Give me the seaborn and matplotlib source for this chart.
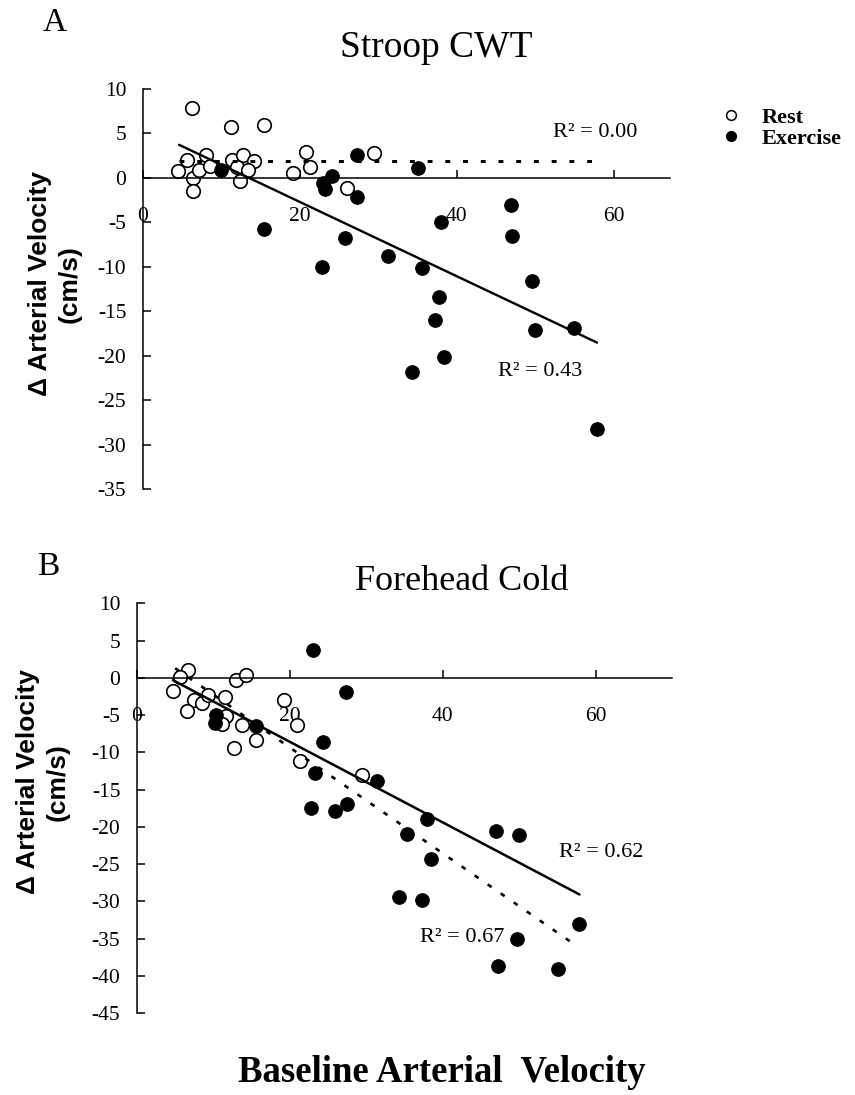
import numpy as np
import pandas as pd
import matplotlib
matplotlib.use("Agg")
import matplotlib.pyplot as plt
import seaborn as sns
from matplotlib.lines import Line2D

# ---------------- data ----------------
# Panel A : Stroop CWT
a_rest_x = [6.2, 11.2, 15.4, 20.8, 29.4, 5.6, 8.0, 4.5, 6.4, 6.4, 7.1, 8.5, 11.3,
            12.7, 14.1, 12.0, 13.4, 12.4, 19.1, 21.3, 26.0]
a_rest_y = [7.8, 5.7, 6.0, 2.9, 2.8, 2.0, 2.6, 0.8, 0.0, -1.5, 0.9, 1.3, 2.0,
            2.6, 1.9, 1.2, 0.9, -0.4, 0.6, 1.2, -1.1]
a_ex_x = [9.9, 27.3, 35.1, 24.1, 22.9, 23.2, 27.3, 15.4, 25.7, 46.9, 38.0, 47.0,
          31.3, 22.8, 35.6, 49.6, 37.7, 37.2, 50.0, 55.0, 38.4, 34.3, 57.9]
a_ex_y = [0.9, 2.6, 1.1, 0.2, -0.6, -1.2, -2.1, -5.7, -6.8, -3.0, -5.0, -6.5,
          -8.8, -10.0, -10.1, -11.6, -13.4, -16.0, -17.1, -16.9, -20.1, -21.8, -28.2]
# regression lines: slope, intercept, x-start, x-end
a_fit_dashed = (0.0, 1.9, 4.6, 57.9)
a_fit_solid = (-0.417, 5.64, 4.6, 57.9)
a_r2_labels = ["R² = 0.00", "R² = 0.43"]

# Panel B : Forehead Cold
b_rest_x = [6.7, 5.6, 4.7, 7.4, 8.5, 9.3, 6.6, 11.5, 12.9, 14.3, 19.3, 11.6,
            13.7, 15.6, 12.7, 20.9, 21.3, 11.1, 29.4]
b_rest_y = [1.0, 0.1, -1.8, -3.0, -3.4, -2.3, -4.5, -2.5, -0.3, 0.4, -3.0, -5.1,
            -6.3, -8.3, -9.4, -6.3, -11.2, -6.2, -13.0]
b_ex_x = [23.0, 27.3, 10.3, 10.2, 15.6, 24.3, 23.3, 31.4, 22.8, 25.9, 27.5, 37.9,
          35.3, 47.0, 50.0, 38.5, 34.3, 37.3, 57.9, 49.7, 47.2, 55.1]
b_ex_y = [3.7, -1.9, -5.0, -6.1, -6.5, -8.6, -12.8, -13.9, -17.5, -17.9, -17.0, -19.0,
          -21.0, -20.6, -21.1, -24.3, -29.4, -29.8, -33.0, -35.1, -38.7, -39.1]
b_fit_solid = (-0.541, 2.24, 4.7, 57.9)
b_fit_dashed = (-0.710, 4.85, 5.0, 57.7)
b_r2_labels = ["R² = 0.62", "R² = 0.67"]

x_ticks = [0, 20, 40, 60]
a_y_ticks = [10, 5, 0, -5, -10, -15, -20, -25, -30, -35]
b_y_ticks = [10, 5, 0, -5, -10, -15, -20, -25, -30, -35, -40, -45]
legend_labels = ["Rest", "Exercise"]
titles = ["Stroop CWT", "Forehead Cold"]
panel_letters = ["A", "B"]
y_label = "Δ Arterial Velocity\n(cm/s)"
x_label = "Baseline Arterial  Velocity"

# ---------------- style ----------------
sns.set_theme(style="white")
plt.rcParams['font.family'] = ['Liberation Serif', 'DejaVu Serif']
plt.rcParams['axes.unicode_minus'] = False
plt.rcParams['text.color'] = 'black'
plt.rcParams['axes.labelcolor'] = 'black'
plt.rcParams['xtick.color'] = 'black'
plt.rcParams['ytick.color'] = 'black'

SERIF = ['Liberation Serif', 'DejaVu Serif']
SANS = ['Liberation Sans', 'DejaVu Sans']

fig = plt.figure(figsize=(8.55, 10.95), dpi=100)
fig.patch.set_facecolor('white')
axA = fig.add_axes([0.16725, 0.5530, 0.6164, 0.3658])
axB = fig.add_axes([0.1602, 0.0749, 0.6257, 0.374])


def draw_panel(ax, rx, ry, ex, ey, fits, xmax, ymin, yticks):
    rest = pd.DataFrame({"x": rx, "y": ry})
    exer = pd.DataFrame({"x": ex, "y": ey})
    sns.scatterplot(data=rest, x="x", y="y", ax=ax, s=95, color="white",
                    edgecolor="black", linewidth=1.2, zorder=2)
    for slope, icpt, x0, x1, ls, lw in fits:
        xs = np.array([x0, x1])
        ys = slope * xs + icpt
        sns.lineplot(x=xs, y=ys, ax=ax, color="black", linewidth=lw,
                     linestyle=ls, zorder=3)
    sns.scatterplot(data=exer, x="x", y="y", ax=ax, s=95, color="black",
                    edgecolor="black", linewidth=0.8, zorder=4)
    ax.set_xlim(0, xmax)
    ax.set_ylim(ymin, 10)
    ax.set_xticks(x_ticks)
    ax.set_yticks(yticks)
    ax.spines['top'].set_visible(False)
    ax.spines['right'].set_visible(False)
    ax.spines['bottom'].set_position(('data', 0))
    for s in ['left', 'bottom']:
        ax.spines[s].set_color('black')
        ax.spines[s].set_linewidth(1.1)
    ax.tick_params(axis='x', bottom=True, direction='in', length=5.5, width=1.1,
                   pad=21, labelsize=15.5, colors='black')
    ax.tick_params(axis='y', left=True, direction='in', length=5.5, width=1.1,
                   pad=12, labelsize=15.5, colors='black')
    ax.set_xlabel("")
    ax.set_ylabel("")
    ax.grid(False)
    ax.set_facecolor('white')


DASH = (0, (1.6, 4.2))
draw_panel(axA, a_rest_x, a_rest_y, a_ex_x, a_ex_y,
           [(*a_fit_dashed, DASH, 2.2), (*a_fit_solid, '-', 1.7)],
           67.2, -35, a_y_ticks)
draw_panel(axB, b_rest_x, b_rest_y, b_ex_x, b_ex_y,
           [(*b_fit_solid, '-', 1.8), (*b_fit_dashed, (0, (1.8, 4.2)), 1.9)],
           70, -45, b_y_ticks)

# R^2 annotations
axA.text(57.6, 5.06, a_r2_labels[0], ha='center', va='center', fontsize=16, color='black')
axA.text(50.6, -21.8, a_r2_labels[1], ha='center', va='center', fontsize=16, color='black')
axB.text(60.7, -23.5, b_r2_labels[0], ha='center', va='center', fontsize=16, color='black')
axB.text(42.5, -34.8, b_r2_labels[1], ha='center', va='center', fontsize=16, color='black')

# titles and panel letters
fig.text(436 / 855, 1 - 48 / 1095, titles[0], ha='center', va='center',
         fontsize=27, family=SERIF, color='black')
fig.text(462 / 855, 1 - 581 / 1095, titles[1], ha='center', va='center',
         fontsize=26, family=SERIF, color='black')
fig.text(55 / 855, 1 - 23 / 1095, panel_letters[0], ha='center', va='center',
         fontsize=24, family=SERIF, color='black')
fig.text(48 / 855, 1 - 567 / 1095, panel_letters[1], ha='center', va='center',
         fontsize=24, family=SERIF, color='black')

# y labels
fig.text(54.5 / 855, 1 - 284 / 1095, y_label, rotation=90, ha='center', va='center',
         fontsize=19, fontweight='bold', family=SANS, linespacing=1.3,
         multialignment='center', color='black')
fig.text(43 / 855, 1 - 782 / 1095, y_label, rotation=90, ha='center', va='center',
         fontsize=19, fontweight='bold', family=SANS, linespacing=1.3,
         multialignment='center', color='black')

# x label
fig.text(442 / 855, 1 - 1073 / 1095, x_label, ha='center', va='center',
         fontsize=26.5, fontweight='bold', family=SERIF, color='black')

# legend
handles = [Line2D([], [], marker='o', ls='', mfc='white', mec='black', mew=1.1, ms=7),
           Line2D([], [], marker='o', ls='', mfc='black', mec='black', ms=7)]
leg = axA.legend(handles, legend_labels, loc='center left',
                 bbox_to_anchor=(722 / 855, 1 - 128 / 1095), bbox_transform=fig.transFigure,
                 frameon=False, handlelength=0.8, handletextpad=1.0, labelspacing=0.0,
                 borderpad=0, borderaxespad=0,
                 prop={'family': SERIF, 'weight': 'bold', 'size': 16})
for t in leg.get_texts():
    t.set_color('black')

fig.savefig("out.png", dpi=100, facecolor='white')
